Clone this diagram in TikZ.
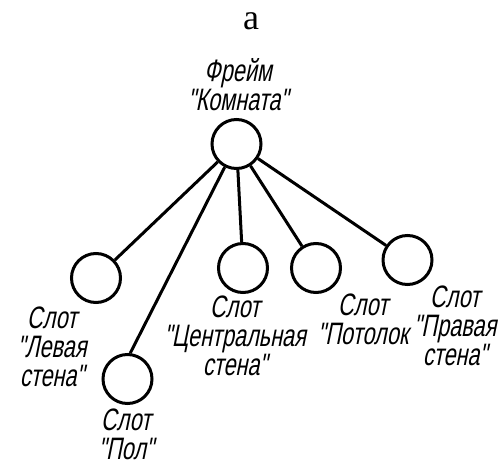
\documentclass[tikz,border=0pt]{standalone}
\usepackage{fontspec}
\newfontfamily\gost[FakeSlant=0.2,FakeStretch=0.7]{Liberation Sans}
\newfontfamily\captionfont{Liberation Serif}
\begin{document}
\begin{tikzpicture}[x=1pt,y=-1pt,
  slot/.style={circle,draw,line width=3pt,minimum size=49pt,inner sep=0pt},
  link/.style={line width=3pt},
  lbl/.style={align=center,inner sep=0pt,font=\gost\fontsize{31}{29}\selectfont}]
\useasboundingbox (0,0) rectangle (502,465);
\node[font=\captionfont\fontsize{36}{36}\selectfont,inner sep=0pt] (cap) at (251,21) {a};
% frame and its slots
\node[slot] (top) at (236.5,144) {};
\node[slot] (left) at (96,278) {};
\node[slot] (floor) at (127.5,379) {};
\node[slot] (center) at (243,268) {};
\node[slot] (ceil) at (316,268) {};
\node[slot] (right) at (407.5,260) {};
% links
\draw[link] (top) -- (left);
\draw[link] (top) -- (floor.84);
\draw[link] (top) -- (center);
\draw[link] (top) -- (ceil);
\draw[link] (top) -- (right);
% labels
\node[lbl] (ltop) at (238,85) {Фрейм\\"Комната"};
\node[lbl] (lleft) at (52,347) {Слот\\"Левая\\стена"};
\node[lbl] (lfloor) at (126,434) {Слот\\"Пол"};
\node[lbl] (lcenter) at (235,336) {Слот\\"Центральная\\стена"};
\node[lbl] (lceil) at (363,319) {Слот\\"Потолок};
\node[lbl] (lright) at (455,326) {Слот\\"Правая\\стена"};
\end{tikzpicture}
\end{document}
